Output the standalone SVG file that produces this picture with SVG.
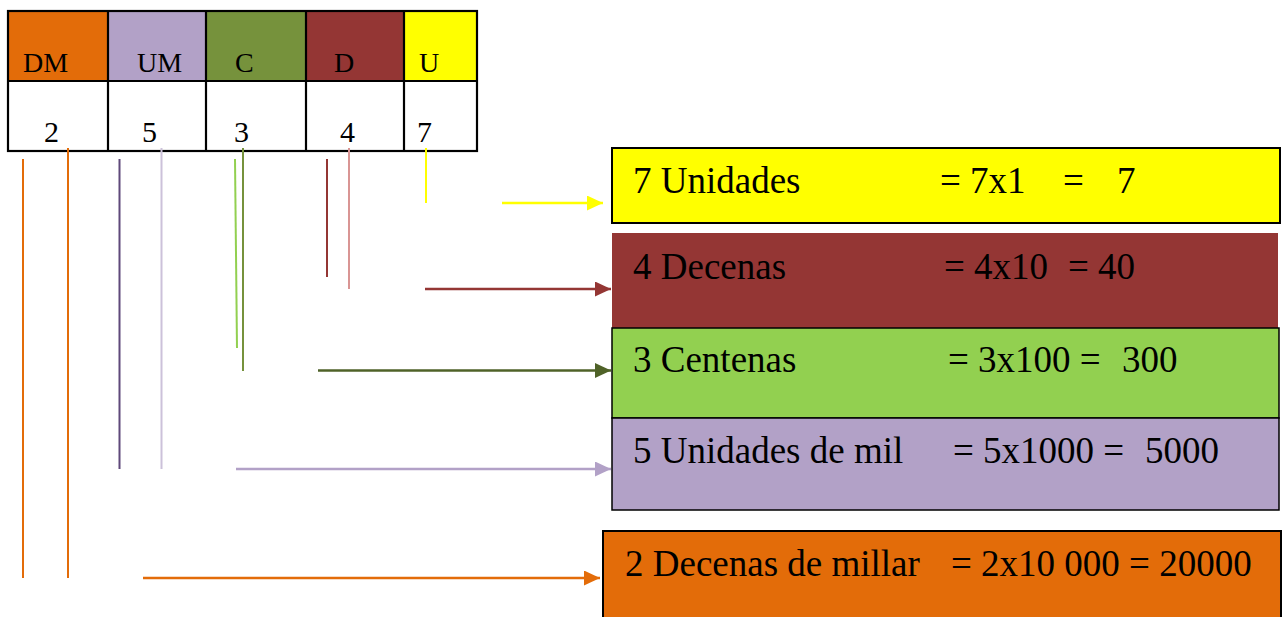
<svg xmlns="http://www.w3.org/2000/svg" width="1286" height="617" viewBox="0 0 1286 617">
<style>
text{font-family:"Liberation Serif","Times New Roman",serif;fill:#000}
.th{font-size:28px}
.td{font-size:30px}
.bx{font-size:37px}
.grid{fill:none;stroke:#000;stroke-width:2.2}
.v{stroke-width:2;fill:none}
.a{stroke-width:2.6;fill:none}
</style>
<defs>
<marker id="mY" markerUnits="userSpaceOnUse" markerWidth="16" markerHeight="15" refX="16" refY="7.5" orient="auto"><path d="M0,0L16,7.5L0,15z" fill="#FFFF00"/></marker>
<marker id="mR" markerUnits="userSpaceOnUse" markerWidth="16" markerHeight="15" refX="16" refY="7.5" orient="auto"><path d="M0,0L16,7.5L0,15z" fill="#943634"/></marker>
<marker id="mG" markerUnits="userSpaceOnUse" markerWidth="16" markerHeight="15" refX="16" refY="7.5" orient="auto"><path d="M0,0L16,7.5L0,15z" fill="#4F6228"/></marker>
<marker id="mP" markerUnits="userSpaceOnUse" markerWidth="16" markerHeight="15" refX="16" refY="7.5" orient="auto"><path d="M0,0L16,7.5L0,15z" fill="#B2A1C7"/></marker>
<marker id="mO" markerUnits="userSpaceOnUse" markerWidth="16" markerHeight="15" refX="16" refY="7.5" orient="auto"><path d="M0,0L16,7.5L0,15z" fill="#E36C09"/></marker>
</defs>
<rect width="1286" height="617" fill="#fff"/>

<g id="table">
<rect x="8" y="10" width="100" height="71" fill="#E36C09"/>
<rect x="108" y="10" width="98" height="71" fill="#B2A1C7"/>
<rect x="206" y="10" width="100" height="71" fill="#76923C"/>
<rect x="306" y="10" width="98" height="71" fill="#943634"/>
<rect x="404" y="10" width="73" height="71" fill="#FFFF00"/>
<rect class="grid" x="8" y="11" width="469" height="140"/>
<path class="grid" d="M8,81H477M108,11V151M206,11V151M306,11V151M404,11V151"/>
<text class="th" x="23" y="72">DM</text>
<text class="th" x="137" y="72">UM</text>
<text class="th" x="235" y="72">C</text>
<text class="th" x="334" y="72">D</text>
<text class="th" x="419" y="72">U</text>
<text class="td" x="44" y="142">2</text>
<text class="td" x="142" y="142">5</text>
<text class="td" x="234" y="142">3</text>
<text class="td" x="340" y="142">4</text>
<text class="td" x="417" y="142">7</text>
</g>

<g id="box-unidades">
<rect x="612" y="148" width="668" height="75" fill="#FFFF00" stroke="#000" stroke-width="2"/>
<text class="bx" x="633" y="193">7 Unidades<tspan x="940">= 7x1</tspan><tspan x="1063">=</tspan><tspan x="1117">7</tspan></text>
</g>
<g id="box-decenas">
<rect x="612" y="233" width="666" height="95" fill="#943634"/>
<text class="bx" x="633" y="279">4 Decenas<tspan x="944">= 4x10</tspan><tspan x="1068">= 40</tspan></text>
</g>
<g id="box-centenas">
<rect x="612" y="328" width="667" height="90" fill="#92D050" stroke="#000" stroke-width="1.5"/>
<text class="bx" x="633" y="372">3 Centenas<tspan x="948">= 3x100 =</tspan><tspan x="1122">300</tspan></text>
</g>
<g id="box-unidades-mil">
<rect x="612" y="418" width="667" height="92" fill="#B2A1C7" stroke="#000" stroke-width="1.5"/>
<text class="bx" x="633" y="463">5 Unidades de mil<tspan x="953">= 5x1000 =</tspan><tspan x="1145">5000</tspan></text>
</g>
<g id="box-decenas-millar">
<rect x="603" y="531" width="678" height="100" fill="#E36C09" stroke="#000" stroke-width="2"/>
<text class="bx" x="625" y="576">2 Decenas de millar<tspan x="951">= 2x10 000 = 20000</tspan></text>
</g>

<g id="connectors">
<line class="v" x1="23" y1="159" x2="23" y2="578" stroke="#E36C09"/>
<line class="v" x1="68" y1="148" x2="68" y2="578" stroke="#E36C09"/>
<line class="v" x1="119.5" y1="159" x2="119.5" y2="469" stroke="#5F497A"/>
<line class="v" x1="161.5" y1="148" x2="161.5" y2="469" stroke="#CCC1DA"/>
<line class="v" x1="235" y1="159" x2="237" y2="348" stroke="#92D050"/>
<line class="v" x1="243" y1="148" x2="243" y2="371" stroke="#76923C"/>
<line class="v" x1="327" y1="159" x2="327" y2="277" stroke="#943634"/>
<line class="v" x1="349" y1="148" x2="349" y2="289" stroke="#D99594"/>
<line class="v" x1="426" y1="148" x2="426" y2="203" stroke="#FFFF00"/>
<line class="a" x1="502" y1="203" x2="603" y2="203" stroke="#FFFF00" marker-end="url(#mY)"/>
<line class="a" x1="425" y1="289" x2="611" y2="289" stroke="#943634" marker-end="url(#mR)"/>
<line class="a" x1="318" y1="370.5" x2="611" y2="370.5" stroke="#4F6228" marker-end="url(#mG)"/>
<line class="a" x1="236" y1="469" x2="611" y2="469" stroke="#B2A1C7" marker-end="url(#mP)"/>
<line class="a" x1="143" y1="578" x2="600" y2="578" stroke="#E36C09" marker-end="url(#mO)"/>
</g>
</svg>
